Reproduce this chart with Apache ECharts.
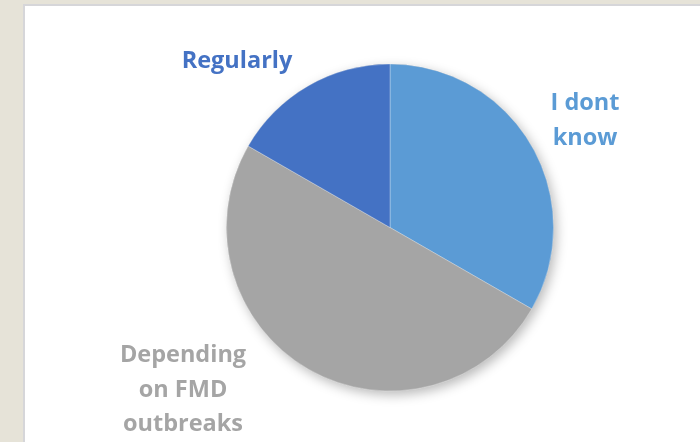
<!DOCTYPE html>
<html>
<head>
<meta charset="utf-8">
<script src="https://cdn.jsdelivr.net/npm/echarts@6/dist/echarts.min.js"></script>
<style>
html,body{margin:0;padding:0;width:700px;height:442px;overflow:hidden;background:#E6E3D8;}
#panel{position:absolute;left:23px;top:4px;width:677px;height:438px;background:#fff;border-left:2px solid #D6D6D9;border-top:2px solid #D6D6D9;box-sizing:border-box;}
#chart{position:absolute;left:0;top:0;width:700px;height:442px;}
</style>
</head>
<body>
<div id="panel"></div>
<div id="chart"></div>
<script>
const categories = ["I dont\nknow", "Depending\non FMD\noutbreaks", "Regularly"];
const values = [33.3, 50.0, 16.7];
const colors = ["#5B9BD5", "#A5A5A5", "#4472C4"];

const labelPos = [[585, 121], [183, 390], [237, 61]];

const chart = echarts.init(document.getElementById('chart'), null, {renderer: 'canvas'});
chart.setOption({
  animation: false,
  backgroundColor: 'transparent',
  series: [
    {
      type: 'pie',
      silent: true,
      center: [390, 227.5],
      radius: 163.5,
      label: {show: false},
      labelLine: {show: false},
      itemStyle: {color: '#A5A5A5', shadowBlur: 12, shadowColor: 'rgba(0,0,0,0.28)', shadowOffsetX: 3, shadowOffsetY: 4},
      data: [{value: 1}]
    },
    {
      type: 'pie',
      center: [390, 227.5],
      radius: 163.5,
      startAngle: 90,
      clockwise: true,
      itemStyle: {borderColor: 'rgba(255,255,255,0.5)', borderWidth: 0.6},
      labelLine: {show: false},
      label: {
        show: true,
        position: 'outside',
        fontFamily: 'Open Sans',
        fontWeight: 'bold',
        fontSize: 23.5,
        lineHeight: 34.5,
        align: 'center',
        formatter: p => p.name
      },
      labelLayout: function (params) {
        const p = labelPos[params.dataIndex];
        return {x: p[0], y: p[1], align: 'center', verticalAlign: 'middle', hideOverlap: false};
      },
      data: categories.map((c, i) => ({
        name: c,
        value: values[i],
        itemStyle: {color: colors[i]},
        label: {color: colors[i]}
      }))
    }
  ]
});
</script>
</body>
</html>
